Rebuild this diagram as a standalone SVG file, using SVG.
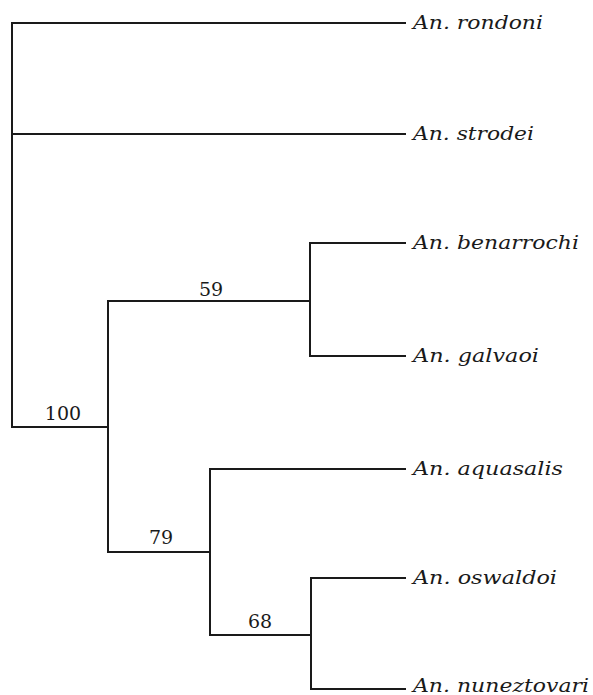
<svg xmlns="http://www.w3.org/2000/svg" width="593" height="695" viewBox="0 0 593 695">
<style>
.br{fill:none;stroke:#1a1a1a;stroke-width:2;stroke-linecap:square}
.tx{font-family:"DejaVu Serif","Liberation Serif",serif;font-style:italic;font-size:19px;fill:#1a1a1a}
.bs{font-family:"DejaVu Serif","Liberation Serif",serif;font-size:19px;fill:#1a1a1a;text-anchor:middle}
</style>
<rect width="593" height="695" fill="#fff"/>
<g id="connectors">
<path class="br" d="M405,23 H12 V427 H108"/>
<path class="br" d="M12,134 H405"/>
<path class="br" d="M108,301 V552"/>
<path class="br" d="M108,301 H310"/>
<path class="br" d="M405,243 H310 V356 H405"/>
<path class="br" d="M108,552 H210"/>
<path class="br" d="M405,469 H210 V635 H311"/>
<path class="br" d="M405,578 H311 V689 H405"/>
</g>
<g id="leaf-rondoni"><text class="tx" x="413" y="29" textLength="130" lengthAdjust="spacingAndGlyphs">An. rondoni</text></g>
<g id="leaf-strodei"><text class="tx" x="413" y="140" textLength="121" lengthAdjust="spacingAndGlyphs">An. strodei</text></g>
<g id="leaf-benarrochi"><text class="tx" x="413" y="249" textLength="166" lengthAdjust="spacingAndGlyphs">An. benarrochi</text></g>
<g id="leaf-galvaoi"><text class="tx" x="413" y="362" textLength="126" lengthAdjust="spacingAndGlyphs">An. galvaoi</text></g>
<g id="leaf-aquasalis"><text class="tx" x="413" y="475" textLength="150" lengthAdjust="spacingAndGlyphs">An. aquasalis</text></g>
<g id="leaf-oswaldoi"><text class="tx" x="413" y="584" textLength="144" lengthAdjust="spacingAndGlyphs">An. oswaldoi</text></g>
<g id="leaf-nuneztovari"><text class="tx" x="413" y="692" textLength="176" lengthAdjust="spacingAndGlyphs">An. nuneztovari</text></g>
<g id="node-100"><text class="bs" x="63" y="420">100</text></g>
<g id="node-59"><text class="bs" x="211" y="296">59</text></g>
<g id="node-79"><text class="bs" x="161" y="544">79</text></g>
<g id="node-68"><text class="bs" x="260" y="628">68</text></g>
</svg>
